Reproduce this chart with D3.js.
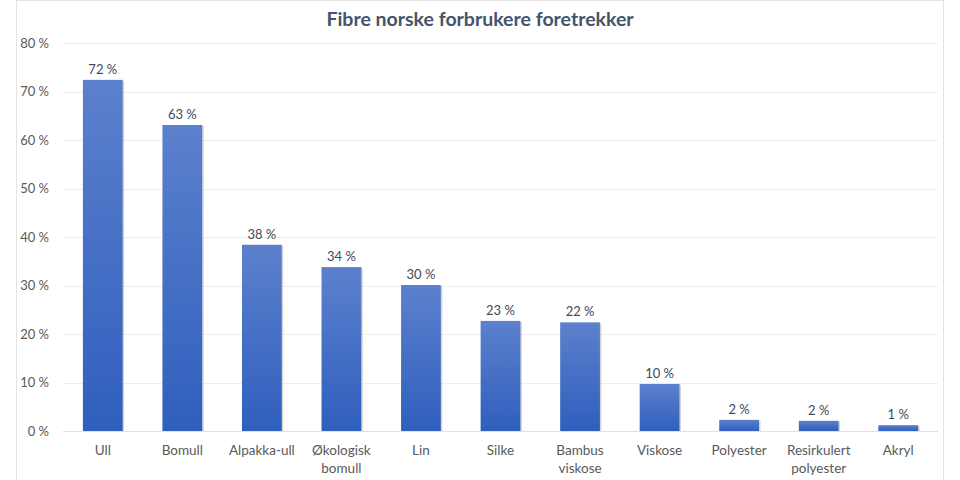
<!DOCTYPE html>
<html>
<head>
<meta charset="utf-8">
<script src="https://cdn.jsdelivr.net/npm/d3@7"></script>
<style>
  body { margin: 0; background: #fff; }
  text { font-family: Lato, "Open Sans", sans-serif; }
</style>
</head>
<body>
<script>
// data
var fibres = ['Ull', 'Bomull', 'Alpakka-ull', 'Økologisk bomull', 'Lin', 'Silke',
  'Bambus viskose', 'Viskose', 'Polyester', 'Resirkulert polyester', 'Akryl'];
var shares = [72.4, 63.1, 38.4, 33.8, 30.1, 22.7, 22.4, 9.7, 2.3, 2.1, 1.2];
var yTicks = [0, 10, 20, 30, 40, 50, 60, 70, 80];

var w = 960;
var h = 480;
var margin = { top: 43, right: 22, bottom: 49, left: 63 };

var svg = d3.select('body').append('svg')
  .attr('width', w)
  .attr('height', h);

var defs = svg.append('defs');
var grad = defs.append('linearGradient')
  .attr('id', 'barGrad')
  .attr('x1', 0).attr('y1', 0).attr('x2', 0).attr('y2', 1);
grad.append('stop').attr('offset', '0%').attr('stop-color', '#5c80cd');
grad.append('stop').attr('offset', '100%').attr('stop-color', '#2f5fbd');

// chart frame
svg.append('rect')
  .attr('x', 16.5).attr('y', 0.5)
  .attr('width', 927).attr('height', 490)
  .attr('fill', 'none')
  .attr('stroke', '#e4e4e4');

var x = d3.scaleBand()
  .domain(fibres)
  .range([margin.left, w - margin.right])
  .paddingInner(0.5)
  .paddingOuter(0.25);

var y = d3.scaleLinear()
  .domain([0, 80])
  .range([h - margin.bottom, margin.top]);

// gridlines
svg.append('g')
  .selectAll('line')
  .data(yTicks)
  .enter()
  .append('line')
    .attr('x1', margin.left)
    .attr('x2', w - margin.right)
    .attr('y1', d => Math.round(y(d)) + 0.5)
    .attr('y2', d => Math.round(y(d)) + 0.5)
    .attr('stroke', (d) => d === 0 ? '#e0e0e0' : '#ededed');

// y axis labels
var yAxis = d3.axisLeft(y)
  .tickValues(yTicks)
  .tickFormat(d => d + ' %')
  .tickSize(0)
  .tickPadding(14);

svg.append('g')
  .attr('transform', 'translate(' + margin.left + ',0)')
  .call(yAxis)
  .call(g => g.select('.domain').remove())
  .selectAll('text')
    .attr('fill', '#595959')
    .attr('font-size', '13px');

// bar shadows
svg.append('g')
  .selectAll('rect')
  .data(shares)
  .enter()
  .append('rect')
    .attr('x', (d, i) => x(fibres[i]) + 1.5)
    .attr('y', d => y(d) + 1)
    .attr('width', x.bandwidth())
    .attr('height', d => y(0) - y(d) - 1)
    .attr('fill', '#b8b8b8')
    .attr('opacity', 0.6);

// bars
svg.append('g')
  .selectAll('rect')
  .data(shares)
  .enter()
  .append('rect')
    .attr('x', (d, i) => x(fibres[i]))
    .attr('y', d => y(d))
    .attr('width', x.bandwidth())
    .attr('height', d => y(0) - y(d))
    .attr('fill', 'url(#barGrad)');

// value labels
svg.append('g')
  .selectAll('text')
  .data(shares)
  .enter()
  .append('text')
    .attr('x', (d, i) => x(fibres[i]) + x.bandwidth() / 2)
    .attr('y', d => y(d) - 6)
    .attr('text-anchor', 'middle')
    .attr('fill', '#404a5a')
    .attr('font-size', '13px')
    .text(d => Math.round(d) + ' %');

// category labels, wrapped on the space for two-word names
var cats = svg.append('g')
  .selectAll('text')
  .data(fibres)
  .enter()
  .append('text')
    .attr('x', d => x(d) + x.bandwidth() / 2)
    .attr('y', h - margin.bottom + 24)
    .attr('text-anchor', 'middle')
    .attr('fill', '#595959')
    .attr('font-size', '13.5px');

cats.each(function (d) {
  var words = d.split(' ');
  var t = d3.select(this);
  words.forEach((wd, k) => {
    t.append('tspan')
      .attr('x', x(d) + x.bandwidth() / 2)
      .attr('dy', k === 0 ? 0 : '1.3em')
      .text(wd);
  });
});

// title
svg.append('text')
  .attr('x', 480)
  .attr('y', 26)
  .attr('text-anchor', 'middle')
  .attr('fill', '#44546a')
  .attr('font-size', '19.5px')
  .attr('font-weight', 'bold')
  .text('Fibre norske forbrukere foretrekker');
</script>
</body>
</html>
